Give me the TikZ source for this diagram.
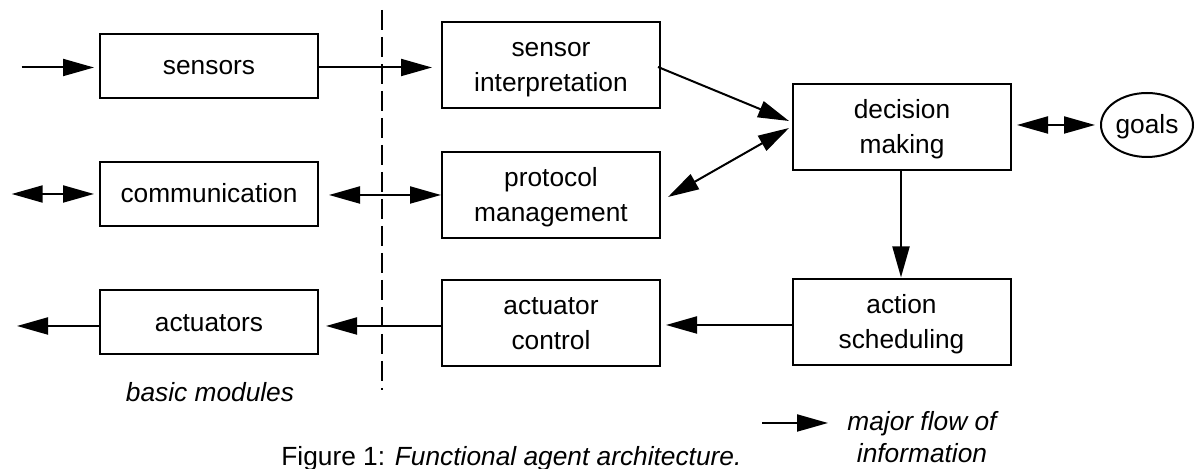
\documentclass[tikz,border=0pt]{standalone}
\usepackage{fontspec}
\setmainfont{Liberation Sans}
\usetikzlibrary{arrows.meta,shapes.geometric,calc}

% invisible strut that sets every text line at the same height
\newcommand{\mtline}[1]{\rule[-4pt]{0pt}{17pt}#1}

\tikzset{
  every node/.style={font=\fontsize{13.15}{17.5}\selectfont},
  modbox/.style={draw, line width=1pt, minimum width=109pt, inner sep=0pt, align=center},
  lowbox/.style={modbox, minimum height=32pt},
  tallbox/.style={modbox, minimum height=43pt},
  goalshape/.style={draw, line width=1pt, ellipse, minimum width=46pt, minimum height=32pt, inner sep=0pt},
  flow/.style={line width=1pt, -{Triangle[length=15.5pt,width=8.5pt]}},
  biflow/.style={line width=1pt, {Triangle[length=15.5pt,width=8.5pt]}-{Triangle[length=15.5pt,width=8.5pt]}},
  divider/.style={line width=1pt, dash pattern=on 10pt off 3.5pt},
  label/.style={anchor=base, inner sep=0pt}
}

\begin{document}
\begin{tikzpicture}[x=0.5pt, y=-0.5pt]
\useasboundingbox (0,0) rectangle (1196,469);

% basic modules
\node[lowbox] (sens) at (209,66) {\mtline{sensors}};
\node[lowbox] (comm) at (209,194) {\mtline{communication}};
\node[lowbox] (act)  at (209,322.5) {\mtline{actuators}};

% interpretation / control layer
\node[tallbox] (si) at (551,65.5) {\mtline{sensor}\\\mtline{interpretation}};
\node[tallbox] (pm) at (551,195) {\mtline{protocol}\\\mtline{management}};
\node[tallbox] (ac) at (551,323) {\mtline{actuator}\\\mtline{control}};

% decision layer
\node[tallbox] (dm) at (902,127) {\mtline{decision}\\\mtline{making}};
\node[tallbox] (as) at (901.5,322.5) {\mtline{action}\\\mtline{scheduling}};
\node[goalshape] (goals) at (1147,125) {\mtline{goals}};

% boundary of the basic modules
\coordinate (dtop) at (382,10);
\coordinate (dbot) at (382,390);
\draw[divider] (dtop) -- (dbot);

% free ends of the outer connectors
\coordinate (sin)  at (21.7,67.5);
\coordinate (cout) at (11.7,194);
\coordinate (aout) at (17,326);

% connectors
\draw[flow, shorten >=2.5pt] (sin) -- (sin -| sens.west);
\draw[flow, shorten >=4.5pt] ([yshift=-0.75pt]sens.east) -- ([yshift=-0.75pt]sens.east -| si.west);
\draw[biflow, shorten >=2.5pt] (cout) -- (cout -| comm.west);
\draw[biflow, shorten <=5pt] ([yshift=-0.5pt]comm.east) -- ([yshift=-0.5pt]comm.east -| pm.west);
\draw[flow] ([yshift=-1.75pt]act.west) -- (aout);
\draw[flow, shorten >=3.5pt] ([yshift=-1.5pt]ac.west) -- ([yshift=-1.5pt]ac.west -| act.east);
\draw[flow, shorten >=2.5pt] ([yshift=-1.25pt]as.west) -- ([yshift=-1.25pt]as.west -| ac.east);
\draw[flow, shorten >=0.5pt] (dm.south -| 901,0) -- (as.north -| 901,0);
\draw[flow] ($(si.east)+(-3,1.5)$) -- ($(dm.west)+(-3,-6)$);
\draw[biflow] ($(pm.east)+(7,2)$) -- ($(dm.west)+(-3,1)$);
\draw[biflow, shorten <=2.5pt, shorten >=2.5pt] (dm.east |- goals.west) -- (goals.west);

% labels
\node[label, font=\fontsize{13.15}{17.5}\selectfont\itshape] (basic) at (210,401.5) {basic modules};
\node[label, anchor=base west] (caption) at (281,466) {Figure 1: \textit{Functional agent architecture.}};

% legend
\coordinate (lgs) at (762,423);
\coordinate (lge) at (828,423);
\draw[flow] (lgs) -- (lge);
\node[label, font=\fontsize{13.15}{17.5}\selectfont\itshape] (leg1) at (922,431) {major flow of};
\node[label, font=\fontsize{13.15}{17.5}\selectfont\itshape] (leg2) at (922,463) {information};
\end{tikzpicture}
\end{document}
